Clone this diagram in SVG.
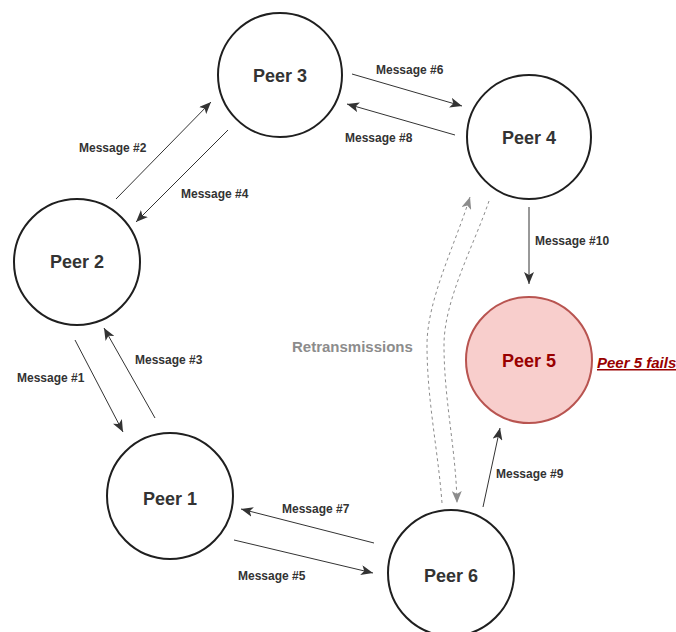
<svg xmlns="http://www.w3.org/2000/svg" width="676" height="632" viewBox="0 0 676 632">
  <style>
    .peer { fill: #ffffff; stroke: #1f1f1f; stroke-width: 2; }
    .peer-failed { fill: #f8cecc; stroke: #b85450; stroke-width: 2; }
    .peer-label { font-family: "Liberation Sans", Arial, sans-serif; font-size: 18px; font-weight: bold; fill: #333333; text-anchor: middle; }
    .peer-label-failed { fill: #990000; }
    .msg { stroke: #333333; stroke-width: 1; fill: none; marker-end: url(#arrow); }
    .retry { stroke: #8c8c8c; stroke-width: 1; fill: none; stroke-dasharray: 3 3; marker-end: url(#arrow-grey); }
    .msg-label { font-family: "Liberation Sans", Arial, sans-serif; font-size: 12px; font-weight: bold; fill: #333333; }
    .retry-label { font-family: "Liberation Sans", Arial, sans-serif; font-size: 15px; font-weight: bold; fill: #8c8c8c; }
    .fail-note { font-family: "Liberation Sans", Arial, sans-serif; font-size: 15px; font-weight: bold; font-style: italic; fill: #990000; text-decoration: underline; }
  </style>
  <defs>
    <marker id="arrow" viewBox="0 0 12 10" refX="12" refY="5" markerWidth="12" markerHeight="10" markerUnits="userSpaceOnUse" orient="auto">
      <path d="M0,0 L12,5 L0,10 L3,5 z" fill="#333333"/>
    </marker>
    <marker id="arrow-grey" viewBox="0 0 12 10" refX="12" refY="5" markerWidth="12" markerHeight="10" markerUnits="userSpaceOnUse" orient="auto">
      <path d="M0,0 L12,5 L0,10 L3,5 z" fill="#8c8c8c"/>
    </marker>
  </defs>

  <rect width="676" height="632" fill="#ffffff"/>

  <!-- connectors -->
  <g id="connectors">
    <line class="msg" x1="75" y1="340" x2="123" y2="432"/>
    <line class="msg" x1="155" y1="418" x2="104" y2="328"/>
    <line class="msg" x1="116" y1="199" x2="211" y2="102"/>
    <line class="msg" x1="228" y1="130" x2="136" y2="222"/>
    <line class="msg" x1="352" y1="74" x2="462" y2="106"/>
    <line class="msg" x1="455" y1="135" x2="347" y2="104"/>
    <line class="msg" x1="529" y1="207" x2="529" y2="284"/>
    <line class="msg" x1="483" y1="507" x2="500" y2="428"/>
    <line class="msg" x1="374" y1="543" x2="241" y2="509"/>
    <line class="msg" x1="234" y1="540" x2="373" y2="573"/>
    <path class="retry" d="M442,503 C438,450 427,400 427,345 C427,300 455,245 470,197"/>
    <path class="retry" d="M489,201 C474,245 444,300 444,345 C444,400 456,450 457,503"/>

    <text class="msg-label" x="17" y="382">Message #1</text>
    <text class="msg-label" x="79" y="152">Message #2</text>
    <text class="msg-label" x="135" y="364">Message #3</text>
    <text class="msg-label" x="181" y="198">Message #4</text>
    <text class="msg-label" x="238" y="580">Message #5</text>
    <text class="msg-label" x="376" y="74">Message #6</text>
    <text class="msg-label" x="282" y="513">Message #7</text>
    <text class="msg-label" x="345" y="142">Message #8</text>
    <text class="msg-label" x="496" y="478">Message #9</text>
    <text class="msg-label" x="535" y="245">Message #10</text>
    <text class="retry-label" x="292" y="352">Retransmissions</text>
  </g>

  <!-- peers -->
  <g id="peer1">
    <circle class="peer" cx="170" cy="496" r="63"/>
    <text class="peer-label" x="170" y="505">Peer 1</text>
  </g>
  <g id="peer2">
    <circle class="peer" cx="77" cy="262" r="63"/>
    <text class="peer-label" x="77" y="268">Peer 2</text>
  </g>
  <g id="peer3">
    <circle class="peer" cx="280" cy="75" r="62"/>
    <text class="peer-label" x="280" y="82">Peer 3</text>
  </g>
  <g id="peer4">
    <circle class="peer" cx="529" cy="137" r="62"/>
    <text class="peer-label" x="529" y="144">Peer 4</text>
  </g>
  <g id="peer5">
    <circle class="peer-failed" cx="529" cy="360" r="63"/>
    <text class="peer-label peer-label-failed" x="529" y="367">Peer 5</text>
    <text class="fail-note" x="597" y="368">Peer 5 fails</text>
  </g>
  <g id="peer6">
    <circle class="peer" cx="451" cy="573" r="63"/>
    <text class="peer-label" x="451" y="582">Peer 6</text>
  </g>
</svg>
